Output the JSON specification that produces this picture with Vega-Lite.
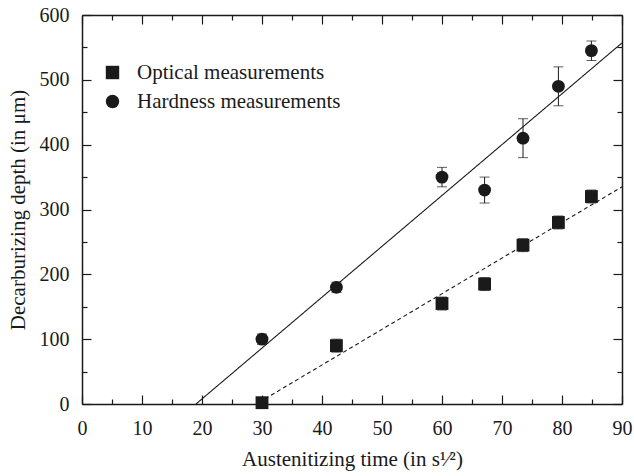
{
  "$schema": "https://vega.github.io/schema/vega-lite/v6.json",
  "width": 540,
  "height": 389,
  "autosize": {"type": "none"},
  "padding": {"left": 82, "top": 15, "right": 12, "bottom": 72},
  "background": "white",
  "config": {
    "view": {"stroke": null},
    "font": "Times New Roman, Liberation Serif, serif",
    "axis": {
      "domainColor": "#1a1a1a",
      "domainWidth": 1.5,
      "tickColor": "#1a1a1a",
      "tickWidth": 1.2,
      "grid": false,
      "labelFlush": false,
      "labelFont": "Times New Roman, Liberation Serif, serif",
      "labelFontSize": 20,
      "labelColor": "#1a1a1a",
      "titleFont": "Times New Roman, Liberation Serif, serif",
      "titleFontSize": 21,
      "titleFontWeight": "normal",
      "titleColor": "#1a1a1a"
    }
  },
  "datasets": {
    "pts": [
      {"series": "Optical measurements", "t": 30, "d": 2, "err": 6},
      {"series": "Optical measurements", "t": 42.4, "d": 90, "err": 10},
      {"series": "Optical measurements", "t": 60, "d": 155, "err": 10},
      {"series": "Optical measurements", "t": 67.1, "d": 185, "err": 10},
      {"series": "Optical measurements", "t": 73.5, "d": 245, "err": 10},
      {"series": "Optical measurements", "t": 79.4, "d": 280, "err": 10},
      {"series": "Optical measurements", "t": 84.9, "d": 320, "err": 10},
      {"series": "Hardness measurements", "t": 30, "d": 100, "err": 8},
      {"series": "Hardness measurements", "t": 42.4, "d": 180, "err": 8},
      {"series": "Hardness measurements", "t": 60, "d": 350, "err": 15},
      {"series": "Hardness measurements", "t": 67.1, "d": 330, "err": 20},
      {"series": "Hardness measurements", "t": 73.5, "d": 410, "err": 30},
      {"series": "Hardness measurements", "t": 79.4, "d": 490, "err": 30},
      {"series": "Hardness measurements", "t": 84.9, "d": 545, "err": 15}
    ],
    "fits": [
      {"fit": "Hardness fit", "t": 19, "d": 0},
      {"fit": "Hardness fit", "t": 90, "d": 557},
      {"fit": "Optical fit", "t": 30.5, "d": 8},
      {"fit": "Optical fit", "t": 90, "d": 335}
    ]
  },
  "resolve": {"axis": {"x": "independent", "y": "independent"}},
  "layer": [
    {
      "data": {"name": "fits"},
      "mark": {"type": "line", "color": "#1a1a1a", "strokeWidth": 1.1},
      "encoding": {
        "x": {"field": "t", "type": "quantitative",
          "scale": {"domain": [0, 90], "nice": false, "zero": false},
          "axis": {"orient": "top", "values": [0,10,20,30,40,50,60,70,80,90], "labels": false, "title": null, "tickSize": -9}},
        "y": {"field": "d", "type": "quantitative",
          "scale": {"domain": [0, 600], "nice": false, "zero": false},
          "axis": {"orient": "right", "values": [0,100,200,300,400,500,600], "labels": false, "title": null, "tickSize": -9}},
        "detail": {"field": "fit"},
        "strokeDash": {"field": "fit", "type": "nominal",
          "scale": {"domain": ["Hardness fit", "Optical fit"], "range": [[1, 0], [4, 3]]}, "legend": null}
      }
    },
    {
      "data": {"name": "pts"},
      "transform": [
        {"calculate": "datum.d - datum.err", "as": "lo"},
        {"calculate": "datum.d + datum.err", "as": "hi"}
      ],
      "mark": {"type": "rule", "color": "#1a1a1a", "strokeWidth": 1},
      "encoding": {
        "x": {"field": "t", "type": "quantitative",
          "axis": {"orient": "bottom", "values": [0,10,20,30,40,50,60,70,80,90], "tickSize": -9,
            "labelPadding": 23, "title": "Austenitizing time (in s¹⁄²)", "titlePadding": 10}},
        "y": {"field": "lo", "type": "quantitative",
          "axis": {"orient": "left", "values": [0,100,200,300,400,500,600], "tickSize": -9,
            "labelPadding": 22, "title": "Decarburizing depth (in μm)", "titlePadding": 11}},
        "y2": {"field": "hi"}
      }
    },
    {
      "data": {"name": "pts"},
      "transform": [{"calculate": "datum.d - datum.err", "as": "lo"}],
      "mark": {"type": "tick", "orient": "horizontal", "color": "#1a1a1a", "size": 10, "thickness": 1},
      "encoding": {
        "x": {"field": "t", "type": "quantitative",
          "axis": {"orient": "bottom", "values": [5,15,25,35,45,55,65,75,85], "labels": false, "domain": false, "title": null, "tickSize": -5}},
        "y": {"field": "lo", "type": "quantitative",
          "axis": {"orient": "left", "values": [50,150,250,350,450,550], "labels": false, "domain": false, "title": null, "tickSize": -5}}
      }
    },
    {
      "data": {"name": "pts"},
      "transform": [{"calculate": "datum.d + datum.err", "as": "hi"}],
      "mark": {"type": "tick", "orient": "horizontal", "color": "#1a1a1a", "size": 10, "thickness": 1},
      "encoding": {
        "x": {"field": "t", "type": "quantitative",
          "axis": {"orient": "top", "values": [5,15,25,35,45,55,65,75,85], "labels": false, "domain": false, "title": null, "tickSize": -5}},
        "y": {"field": "hi", "type": "quantitative",
          "axis": {"orient": "right", "values": [50,150,250,350,450,550], "labels": false, "domain": false, "title": null, "tickSize": -5}}
      }
    },
    {
      "data": {"name": "pts"},
      "mark": {"type": "point", "filled": true, "color": "#1a1a1a", "opacity": 1, "size": 165},
      "encoding": {
        "x": {"field": "t", "type": "quantitative", "axis": null},
        "y": {"field": "d", "type": "quantitative", "axis": null},
        "shape": {"field": "series", "type": "nominal",
          "scale": {"domain": ["Optical measurements", "Hardness measurements"], "range": ["square", "circle"]},
          "legend": {"title": null, "orient": "none", "legendX": 20, "legendY": 47,
            "padding": 0, "symbolSize": 180, "symbolFillColor": "#1a1a1a", "symbolStrokeColor": "#1a1a1a",
            "labelFont": "Times New Roman, Liberation Serif, serif", "labelFontSize": 21, "labelColor": "#1a1a1a", "labelLimit": 0,
            "labelOffset": 14, "rowPadding": 7}}
      }
    }
  ]
}
